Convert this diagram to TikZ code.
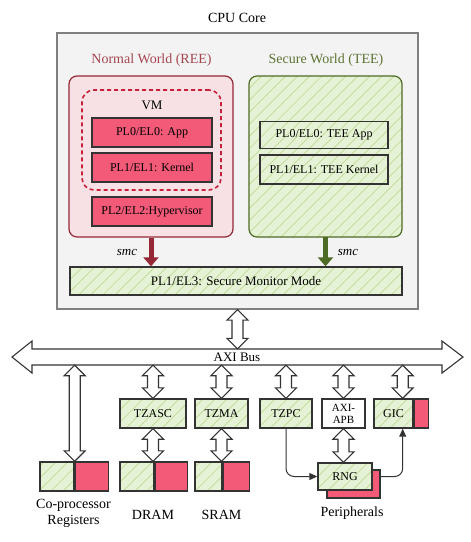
\documentclass[tikz,border=0pt]{standalone}
\usepackage{fontspec}
\setmainfont{Liberation Serif}
\usetikzlibrary{arrows.meta,patterns.meta,calc}

\definecolor{redfill}{HTML}{F25A78}
\definecolor{pinkfill}{HTML}{F8E1E5}
\definecolor{reddark}{HTML}{952835}
\definecolor{redtitle}{HTML}{A5464F}
\definecolor{vmred}{HTML}{C8203A}
\definecolor{greenfill}{HTML}{E6F2D6}
\definecolor{hatch}{HTML}{BCDB92}
\definecolor{greendark}{HTML}{4E6B25}
\definecolor{greentitle}{HTML}{5E7434}
\definecolor{corefill}{HTML}{F3F3F3}
\definecolor{edge}{HTML}{333333}

% hollow double arrow between two points on one vertical
\newcommand{\dblarrow}[2]{%
  \draw[dblarrow] let \p1=(#1), \p2=(#2) in
    (\x1,\y1) -- (\x1+10.5pt,\y1-10.5pt) -- (\x1+5.5pt,\y1-10.5pt)
    -- (\x1+5.5pt,\y2+10.5pt) -- (\x1+10.5pt,\y2+10.5pt) -- (\x1,\y2)
    -- (\x1-10.5pt,\y2+10.5pt) -- (\x1-5.5pt,\y2+10.5pt)
    -- (\x1-5.5pt,\y1-10.5pt) -- (\x1-10.5pt,\y1-10.5pt) -- cycle;}

\begin{document}
\begin{tikzpicture}[x=1pt,y=-1pt,font=\fontsize{12}{14}\selectfont,
  box/.style={draw=edge,line width=1.4pt,minimum height=29,inner sep=0pt},
  redbox/.style={box,fill=redfill},
  greenbox/.style={box,preaction={fill=greenfill},
    pattern={Lines[angle=45,distance=8.5pt,line width=0.7pt]},pattern color=hatch},
  title/.style={font=\fontsize{14}{16}\selectfont},
  dblarrow/.style={draw=edge,line width=1.1pt,fill=white,line join=miter},
  conn/.style={draw=edge,line width=1pt,rounded corners=8pt,-{Triangle[length=8pt,width=7pt]}}]

\useasboundingbox (0,0) rectangle (471,542);

% CPU core
\node[draw=gray,line width=1.2pt,fill=corefill,minimum width=361,minimum height=276] (core) at (237.5,171) {};
\node[title] at (237,18) {CPU Core};

% normal world
\node[title,text=redtitle] at (151.5,60) {Normal World (REE)};
\node[draw=reddark,line width=1.2pt,fill=pinkfill,rounded corners=8pt,minimum width=164,minimum height=161] (ree) at (151,156.5) {};
\node[draw=vmred,line width=1.6pt,dash pattern=on 4pt off 3pt,rounded corners=12pt,minimum width=139,minimum height=100] (vm) at (151.5,140) {};
\node[font=\fontsize{13}{15}\selectfont] at (152,105) {VM};
\node[redbox,minimum width=120] (app) at (152,132.5) {PL0/EL0: App};
\node[redbox,minimum width=120] (kern) at (152,167.5) {PL1/EL1: Kernel};
\node[redbox,minimum width=120] (hyp) at (152,211.5) {PL2/EL2:Hypervisor};

% secure world
\node[title,text=greentitle] at (326,60) {Secure World (TEE)};
\node[draw=greendark,line width=1.2pt,rounded corners=8pt,preaction={fill=greenfill},
  pattern={Lines[angle=45,distance=8.5pt,line width=0.7pt]},pattern color=hatch,
  minimum width=153,minimum height=161] (tee) at (325.5,156.5) {};
\node[greenbox,minimum width=128,minimum height=27] (teeapp) at (324,135) {PL0/EL0: TEE App};
\node[greenbox,minimum width=128] (teekern) at (324,169.5) {PL1/EL1: TEE Kernel};

% monitor
\node[greenbox,minimum width=332,minimum height=28,font=\fontsize{13}{15}\selectfont] (monitor) at (236,281) {PL1/EL3: Secure Monitor Mode};
\draw[reddark,line width=5pt,-{Triangle[width=15pt,length=9pt]}] (ree.south) -- (ree.south |- monitor.north);
\draw[greendark,line width=5pt,-{Triangle[width=15pt,length=9pt]}] (tee.south) -- (tee.south |- monitor.north);
\node[font=\itshape\fontsize{13}{15}\selectfont] at (127,252) {smc};
\node[font=\itshape\fontsize{13}{15}\selectfont] at (348,252) {smc};

% AXI bus
\draw[dblarrow] (12,357) -- (32,341) -- (32,349) -- (442,349) -- (442,341) -- (463,357)
  -- (442,373) -- (442,365) -- (32,365) -- (32,373) -- cycle;
\node[inner sep=0pt,minimum width=410,minimum height=16,font=\fontsize{13}{15}\selectfont] (bus) at (237,357) {AXI Bus};
\dblarrow{core.south}{bus.north}

% filters and memories
\node[greenbox,minimum width=66] (tzasc) at (153,413.5) {TZASC};
\node[greenbox,minimum width=53] (tzma) at (221.5,413.5) {TZMA};
\node[greenbox,minimum width=52] (tzpc) at (286,413.5) {TZPC};
\node[box,fill=white,minimum width=43,align=center,font=\fontsize{11}{12}\selectfont] (axiapb) at (343.5,413.5) {AXI-\\APB};
\node[greenbox,minimum width=39] (gic) at (393.5,413.5) {GIC};
\node[redbox,minimum width=14,anchor=west] (gicR) at (gic.east) {};
\coordinate (gicport) at ([xshift=-11pt]gicR.south west);

\node[greenbox,minimum width=34] (copL) at (57,476.5) {};
\node[redbox,minimum width=33,anchor=west] (copR) at (copL.east) {};
\node[greenbox,minimum width=34] (dramL) at (137,476.5) {};
\node[redbox,minimum width=32,anchor=west] (dramR) at (dramL.east) {};
\node[greenbox,minimum width=27] (sramL) at (208.5,476.5) {};
\node[redbox,minimum width=26,anchor=west] (sramR) at (sramL.east) {};

\node[redbox,minimum width=53,minimum height=28] (rngback) at (353.5,484) {};
\node[greenbox,minimum width=54,minimum height=27] (rng) at (345,476.5) {RNG};

\dblarrow{bus.south -| copL.east}{copL.north east}
\dblarrow{bus.south -| tzasc.north}{tzasc.north}
\dblarrow{tzasc.south}{dramL.north east}
\dblarrow{bus.south -| tzma.north}{tzma.north}
\dblarrow{tzma.south}{sramL.north east}
\dblarrow{bus.south -| tzpc.north}{tzpc.north}
\dblarrow{bus.south -| axiapb.north}{axiapb.north}
\dblarrow{axiapb.south}{rng.north}
\dblarrow{bus.south -| gicport}{gicport |- gic.north}

\draw[conn] (tzpc.south) |- (rng.west);
\draw[conn] (rngback.east |- rng.west) -| (gicport);

% labels
\node[title,align=center] at (73.5,513) {Co-processor\\Registers};
\node[title] at (153,515) {DRAM};
\node[title] at (221.5,515) {SRAM};
\node[title] at (352,513) {Peripherals};

\end{tikzpicture}
\end{document}
